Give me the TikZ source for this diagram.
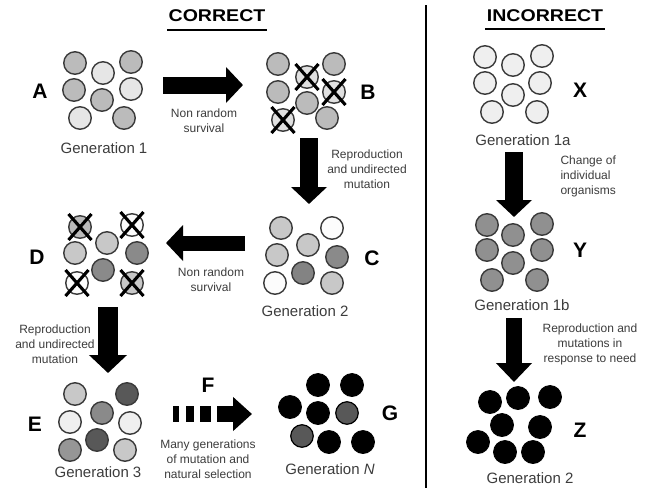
\documentclass[tikz,border=0pt]{standalone}
\usepackage{fontspec}
\setmainfont{Liberation Sans}
\usepackage{graphicx}
\usetikzlibrary{arrows.meta}
\definecolor{outl}{HTML}{3A3A3A}
\definecolor{gA}{HTML}{BBBBBB}
\definecolor{gL}{HTML}{E6E6E6}
\definecolor{cLt}{HTML}{C8C8C8}
\definecolor{cMd}{HTML}{8A8A8A}
\definecolor{cDk}{HTML}{585858}
\definecolor{vLt}{HTML}{EFEFEF}
\definecolor{wht}{HTML}{FCFCFC}
\definecolor{txtgray}{HTML}{3C3C3C}
\newcommand\crossnode[1]{%
  \draw[xline] ([shift={(-11.5,-13)}]#1.center) -- ([shift={(11.5,13)}]#1.center);
  \draw[xline] ([shift={(-11.5,13)}]#1.center) -- ([shift={(11.5,-13)}]#1.center);}
\begin{document}
\begin{tikzpicture}[x=1pt,y=-1pt,
  cell/.style={circle,draw=outl,line width=1.4pt,minimum size=22.5pt,inner sep=0pt},
  blk/.style={circle,fill=black,draw=black,line width=0.8pt,minimum size=23pt,inner sep=0pt},
  dkcell/.style={circle,fill=cDk,draw=black,line width=1.2pt,minimum size=22.5pt,inner sep=0pt},
  xline/.style={line width=3.1pt,black},
  letter/.style={font=\fontsize{21}{24}\selectfont\bfseries},
  genlabel/.style={font=\fontsize{15}{18}\selectfont,text=txtgray},
  small/.style={font=\fontsize{12}{15}\selectfont,text=txtgray,align=center},
  title/.style={font=\fontsize{17}{20}\selectfont\bfseries},
  ul/.style={line width=2.2pt},
  bigarrow/.style={line width=#1,-{Triangle[length=17pt,width=35pt]}}
]
\useasboundingbox (0,0) rectangle (656,488);

% titles
\node[title] (tc) at (217,16) {\scalebox{1.15}[1]{CORRECT}};
\node[title] (ti) at (545,16) {\scalebox{1.15}[1]{INCORRECT}};
\draw[ul] (167,30) -- (267,30);
\draw[ul] (485,29) -- (605,29);
% divider
\draw[line width=1.5pt] (426,5) -- (426,488);

% Group A
\node[cell,fill=gA] (a1) at (75,63) {};
\node[cell,fill=gL] (a2) at (103,73) {};
\node[cell,fill=gA] (a3) at (131,62) {};
\node[cell,fill=gA] (a4) at (74,90) {};
\node[cell,fill=gA] (a5) at (102,100) {};
\node[cell,fill=gL] (a6) at (131,89) {};
\node[cell,fill=gL] (a7) at (80,118) {};
\node[cell,fill=gA] (a8) at (124,118) {};
\node[letter] (lA) at (40,91) {A};
\node[genlabel] (gen1) at (104,148) {Generation 1};

% Group B
\node[cell,fill=gA] (b1) at (278,64) {};
\node[cell,fill=gL!85!gA] (b2) at (307,77) {};
\node[cell,fill=gA] (b3) at (334,64) {};
\node[cell,fill=gA] (b4) at (278,92) {};
\node[cell,fill=gA] (b5) at (307,103) {};
\node[cell,fill=gL!85!gA] (b6) at (334,92) {};
\node[cell,fill=gL!85!gA] (b7) at (283,120) {};
\node[cell,fill=gA] (b8) at (327,118) {};
\crossnode{b2}\crossnode{b6}\crossnode{b7}
\node[letter] (lB) at (368,92) {B};

% Group C
\node[cell,fill=cLt] (c1) at (281,228) {};
\node[cell,fill=wht] (c2) at (332,228) {};
\node[cell,fill=cLt] (c3) at (308,245) {};
\node[cell,fill=cLt] (c4) at (277,255) {};
\node[cell,fill=cMd] (c5) at (337,257) {};
\node[cell,fill=cMd!95!black] (c6) at (303,273) {};
\node[cell,fill=wht] (c7) at (275,283) {};
\node[cell,fill=cLt] (c8) at (332,283) {};
\node[letter] (lC) at (372,258) {C};
\node[genlabel] (gen2) at (305,311) {Generation 2};

% Group D
\node[cell,fill=gA] (d1) at (80,227) {};
\node[cell,fill=wht] (d2) at (132,225) {};
\node[cell,fill=cLt] (d3) at (107,243) {};
\node[cell,fill=cLt] (d4) at (75,253) {};
\node[cell,fill=cMd] (d5) at (137,253) {};
\node[cell,fill=cMd] (d6) at (103,270) {};
\node[cell,fill=wht] (d7) at (77,283) {};
\node[cell,fill=cLt] (d8) at (132,283) {};
\crossnode{d1}\crossnode{d2}\crossnode{d7}\crossnode{d8}
\node[letter] (lD) at (37,257) {D};

% Group E
\node[cell,fill=cLt] (e1) at (75,394) {};
\node[cell,fill=cDk] (e2) at (127,394) {};
\node[cell,fill=cMd] (e3) at (102,413) {};
\node[cell,fill=vLt] (e4) at (70,422) {};
\node[cell,fill=vLt] (e5) at (130,423) {};
\node[cell,fill=cDk] (e6) at (97,440) {};
\node[cell,fill=cMd!80!cLt] (e7) at (70,450) {};
\node[cell,fill=cLt] (e8) at (125,450) {};
\node[letter] (lE) at (35,424) {E};
\node[genlabel] (gen3) at (98,472) {Generation 3};

% Group G
\node[blk] (g1) at (318,385) {};
\node[blk] (g2) at (352,385) {};
\node[blk] (g3) at (290,407) {};
\node[blk] (g4) at (318,413) {};
\node[dkcell] (g5) at (347,413) {};
\node[dkcell] (g6) at (302,436) {};
\node[blk] (g7) at (329,442) {};
\node[blk] (g8) at (363,442) {};
\node[letter] (lG) at (390,413) {G};
\node[genlabel] (genN) at (330,469) {Generation \textit{N}};

% Group X
\node[cell,fill=vLt] (x1) at (485,57) {};
\node[cell,fill=vLt] (x2) at (513,65) {};
\node[cell,fill=vLt] (x3) at (542,56) {};
\node[cell,fill=vLt] (x4) at (485,83) {};
\node[cell,fill=vLt] (x5) at (540,83) {};
\node[cell,fill=vLt] (x6) at (513,95) {};
\node[cell,fill=vLt] (x7) at (492,112) {};
\node[cell,fill=vLt] (x8) at (537,112) {};
\node[letter] (lX) at (580,90) {X};
\node[genlabel] (gen1a) at (523,140) {Generation 1a};

% Group Y
\node[cell,fill=cMd!95!white] (y1) at (487,225) {};
\node[cell,fill=cMd!95!white] (y2) at (513,235) {};
\node[cell,fill=cMd!95!white] (y3) at (542,224) {};
\node[cell,fill=cMd!95!white] (y4) at (487,250) {};
\node[cell,fill=cMd!95!white] (y5) at (542,250) {};
\node[cell,fill=cMd!95!white] (y6) at (513,263) {};
\node[cell,fill=cMd!95!white] (y7) at (492,280) {};
\node[cell,fill=cMd!95!white] (y8) at (537,280) {};
\node[letter] (lY) at (580,250) {Y};
\node[genlabel] (gen1b) at (522,305) {Generation 1b};

% Group Z
\node[blk] (z1) at (490,402) {};
\node[blk] (z2) at (518,398) {};
\node[blk] (z3) at (550,397) {};
\node[blk] (z4) at (502,425) {};
\node[blk] (z5) at (540,427) {};
\node[blk] (z6) at (478,442) {};
\node[blk] (z7) at (505,452) {};
\node[blk] (z8) at (533,452) {};
\node[letter] (lZ) at (580,430) {Z};
\node[genlabel] (genZ) at (530,478) {Generation 2};

% arrows
\coordinate (ab0) at (163,85); \coordinate (ab1) at (243,85);
\coordinate (bc0) at (309,138); \coordinate (bc1) at (309,204);
\coordinate (cd0) at (245,243); \coordinate (cd1) at (166,243);
\coordinate (de0) at (108,307); \coordinate (de1) at (108,373);
\coordinate (xy0) at (514,152); \coordinate (xy1) at (514,217);
\coordinate (yz0) at (514,318); \coordinate (yz1) at (514,382);
\draw[bigarrow=17pt] (ab0) -- (ab1);
\draw[bigarrow=18pt] (bc0) -- (bc1);
\draw[bigarrow=15pt] (cd0) -- (cd1);
\draw[line width=20pt,-{Triangle[length=18pt,width=37pt]}] (de0) -- (de1);
\draw[bigarrow=18pt] (xy0) -- (xy1);
\draw[line width=16pt,-{Triangle[length=19pt,width=35pt]}] (yz0) -- (yz1);

% dashed arrow F
\coordinate (f0) at (217,414); \coordinate (f1) at (252,414);
\fill (173,406) rectangle (179,422);
\fill (186,406) rectangle (194,422);
\fill (200,406) rectangle (211,422);
\draw[line width=16pt,-{Triangle[length=19pt,width=33pt]}] (f0) -- (f1);
\node[letter] (lF) at (208,385) {F};

% small labels
\node[small] (t1) at (204,121) {Non random\\survival};
\node[small] (t2) at (367,169) {Reproduction\\and undirected\\mutation};
\node[small] (t3) at (211,280) {Non random\\survival};
\node[small] (t4) at (55,344) {Reproduction\\and undirected\\mutation};
\node[small] (t5) at (208,459) {Many generations\\of mutation and\\natural selection};
\node[small,align=left,anchor=west] (t6) at (557,176) {Change of\\individual\\organisms};
\node[small] (t7) at (590,344) {Reproduction and\\mutations in\\response to need};
\end{tikzpicture}
\end{document}
